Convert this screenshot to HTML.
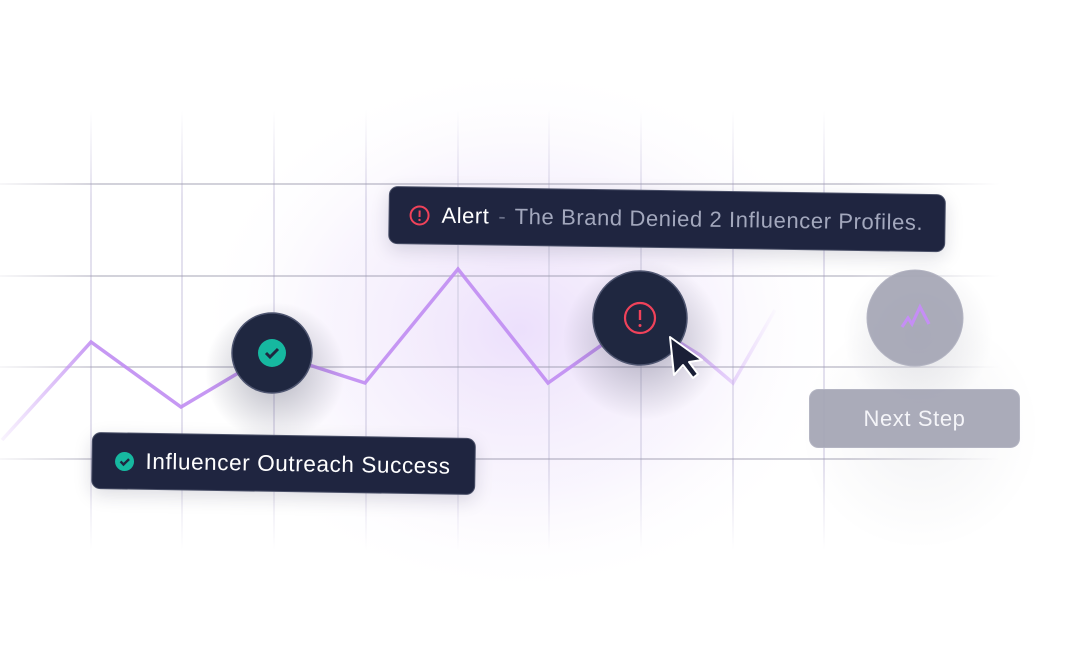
<!DOCTYPE html>
<html><head><meta charset="utf-8"><style>
html,body{margin:0;padding:0;background:#fff;}
body{width:1080px;height:658px;position:relative;overflow:hidden;font-family:"Liberation Sans",sans-serif;}
.card{position:absolute;background:#1f2540;border:1.5px solid #4a5068;border-radius:9px;color:#fff;box-sizing:border-box;display:flex;align-items:center;transform-origin:left top;white-space:nowrap;}
</style></head><body>
<svg width="1080" height="658" style="position:absolute;left:0;top:0">
<defs>
<radialGradient id="glow" cx="0.5" cy="0.5" r="0.5">
<stop offset="0" stop-color="#eadcfb" stop-opacity="0.9"/>
<stop offset="0.6" stop-color="#f3ecfc" stop-opacity="0.5"/>
<stop offset="1" stop-color="#ffffff" stop-opacity="0"/>
</radialGradient>
<linearGradient id="vfade" gradientUnits="userSpaceOnUse" x1="0" y1="110" x2="0" y2="550">
<stop offset="0" stop-color="#d6d2e6" stop-opacity="0"/>
<stop offset="0.2" stop-color="#d6d2e6" stop-opacity="0.9"/>
<stop offset="0.8" stop-color="#d6d2e6" stop-opacity="0.9"/>
<stop offset="1" stop-color="#d6d2e6" stop-opacity="0"/>
</linearGradient>
<linearGradient id="hfade" gradientUnits="userSpaceOnUse" x1="0" y1="0" x2="1000" y2="0">
<stop offset="0" stop-color="#9c9aae" stop-opacity="0.1"/>
<stop offset="0.1" stop-color="#9c9aae" stop-opacity="0.6"/>
<stop offset="0.85" stop-color="#9c9aae" stop-opacity="0.6"/>
<stop offset="1" stop-color="#9c9aae" stop-opacity="0"/>
</linearGradient>
<linearGradient id="lfade" gradientUnits="userSpaceOnUse" x1="0" y1="0" x2="780" y2="0">
<stop offset="0" stop-color="#c89af5" stop-opacity="0.1"/>
<stop offset="0.12" stop-color="#c08cf2" stop-opacity="0.9"/>
<stop offset="0.85" stop-color="#c08cf2" stop-opacity="0.9"/>
<stop offset="1" stop-color="#c89af5" stop-opacity="0"/>
</linearGradient>
<radialGradient id="sh" cx="0.5" cy="0.5" r="0.5">
<stop offset="0" stop-color="#2a2c48" stop-opacity="0.35"/>
<stop offset="1" stop-color="#2a2c48" stop-opacity="0"/>
</radialGradient>
</defs>
<ellipse cx="520" cy="330" rx="330" ry="270" fill="url(#glow)"/>
<g stroke="url(#vfade)" stroke-width="1.5">
<line x1="91" y1="110" x2="91" y2="550"/><line x1="182" y1="110" x2="182" y2="550"/>
<line x1="274" y1="110" x2="274" y2="550"/><line x1="366" y1="110" x2="366" y2="550"/>
<line x1="458" y1="110" x2="458" y2="550"/><line x1="549" y1="110" x2="549" y2="550"/>
<line x1="641" y1="110" x2="641" y2="550"/><line x1="733" y1="110" x2="733" y2="550"/>
<line x1="824" y1="110" x2="824" y2="550"/>
</g>
<g stroke="url(#hfade)" stroke-width="1.5">
<line x1="0" y1="184" x2="1000" y2="184"/><line x1="0" y1="276" x2="1000" y2="276"/>
<line x1="0" y1="367" x2="1000" y2="367"/><line x1="0" y1="459" x2="1000" y2="459"/>
</g>
<polyline points="2,440 91,342 181,407 272,353 365,383 458,269 548,383 640,318 700,355 733,383 775,310" fill="none" stroke="url(#lfade)" stroke-width="3.5" stroke-linejoin="miter"/>
<circle cx="275" cy="372" r="70" fill="url(#sh)"/>
<circle cx="643" cy="340" r="80" fill="url(#sh)"/>
<circle cx="918" cy="335" r="75" fill="url(#sh)" opacity="0.35"/>
<circle cx="920" cy="430" r="120" fill="url(#sh)" opacity="0.15"/>
<circle cx="272" cy="353" r="40" fill="#1f2740" stroke="#4e5570" stroke-width="1.5"/>
<circle cx="272" cy="353" r="14" fill="#16b8a0"/>
<polyline points="266,353 270,357 278,349" fill="none" stroke="#1f2740" stroke-width="3"/>
<circle cx="640" cy="318" r="47" fill="#1f2740" stroke="#4e5570" stroke-width="1.5"/>
<circle cx="640" cy="318" r="15" fill="none" stroke="#f0425a" stroke-width="2.2"/>
<line x1="640" y1="310" x2="640" y2="320" stroke="#f0425a" stroke-width="2.4"/>
<circle cx="640" cy="325.5" r="1.5" fill="#f0425a"/>
<path d="M670,337 L674,375 L683,365 L693,378 L698,374 L689,362 L702,360 Z" fill="#1a1f36" stroke="#fff" stroke-width="2" stroke-linejoin="round"/>
<circle cx="915" cy="318" r="48" fill="#a4a5b4" fill-opacity="0.92" stroke="#b4b5c3" stroke-width="1"/>
<polyline points="902,327 908,318 912,324 920,307 929,324" fill="none" stroke="#c58ef5" stroke-width="3.2"/>
<rect x="809.5" y="389.5" width="210" height="58" rx="9" fill="#a3a4b3" fill-opacity="0.92" stroke="#b4b5c3"/>
<text x="914.5" y="426" text-anchor="middle" font-family="Liberation Sans, sans-serif" font-size="22" letter-spacing="0.6" fill="#f4f4f8">Next Step</text>
</svg>
<div class="card" style="left:389px;top:186px;width:557px;height:58px;transform:rotate(0.85deg);box-shadow:0 6px 18px rgba(30,30,60,.15);">
<svg width="22" height="22" style="margin-left:19px;margin-right:11px"><circle cx="11" cy="11" r="9" fill="none" stroke="#f0425a" stroke-width="2"/><line x1="11" y1="6" x2="11" y2="12.5" stroke="#f0425a" stroke-width="2"/><circle cx="11" cy="15.5" r="1.2" fill="#f0425a"/></svg>
<span style="font-size:22px;letter-spacing:0.5px;color:#fff">Alert</span><span style="font-size:22px;color:#6a7088;margin:0 9px">-</span><span style="font-size:22px;letter-spacing:0.6px;color:#a3a8bd">The Brand Denied 2 Influencer Profiles.</span>
</div>
<div class="card" style="left:92px;top:432px;width:384px;height:57px;transform:rotate(0.9deg);box-shadow:0 6px 18px rgba(30,30,60,.15);">
<svg width="20" height="20" style="margin-left:22px;margin-right:11px"><circle cx="10" cy="10" r="9.5" fill="#16b8a0"/><polyline points="6,10 9,13 14.5,7.5" fill="none" stroke="#1f2540" stroke-width="2.4"/></svg>
<span style="font-size:22.5px;letter-spacing:0.6px;color:#fff">Influencer Outreach Success</span>
</div>
</body></html>
